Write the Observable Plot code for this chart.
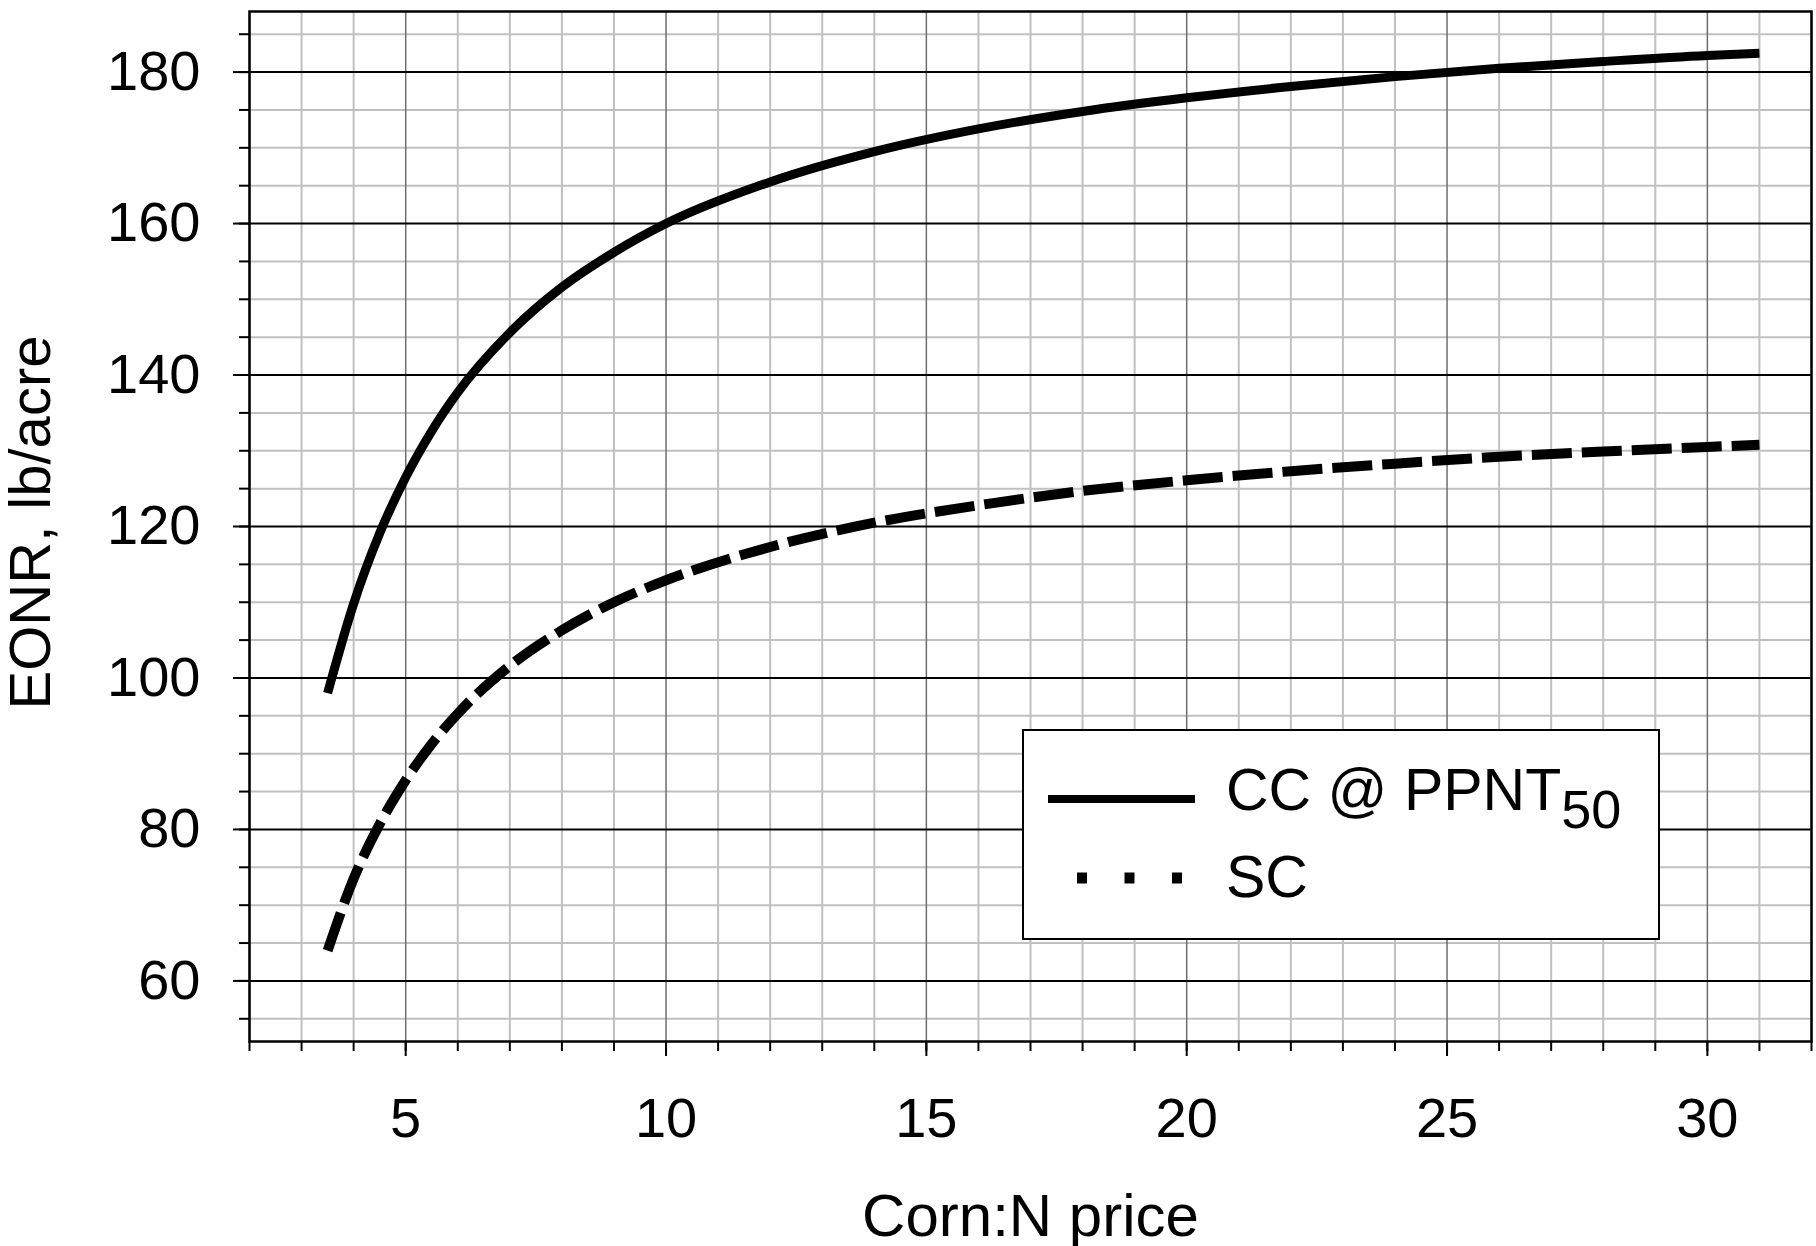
<!DOCTYPE html>
<html><head><meta charset="utf-8">
<script src="https://cdn.jsdelivr.net/npm/d3@7"></script>
<script src="https://cdn.jsdelivr.net/npm/@observablehq/plot@0.6"></script>
<style>
body{margin:0;background:#fff}
#wrap{position:relative;width:1816px;height:1246px;font-family:"Liberation Sans",Arial,sans-serif}
#legend{position:absolute;left:1022px;top:729px}
</style>
</head><body><div id="wrap"></div>
<script>
// Corn:N price ratio (x)
const price  = [3.5, 4, 4.5, 5, 5.5, 6, 7, 8, 9, 10, 12, 14, 16, 18, 20, 22, 24, 26, 28, 30, 31];
// EONR, lb/acre
const eonrCC = [98, 109.8, 119.1, 126.5, 132.6, 137.7, 145.6, 151.6, 156.2, 160, 165.5, 169.5, 172.5, 174.8, 176.6, 178.1, 179.4, 180.5, 181.4, 182.2, 182.5];
const eonrSC = [64, 73.5, 80.7, 86.5, 91.3, 95.3, 101.6, 106.3, 110.0, 112.9, 117.3, 120.5, 122.8, 124.7, 126.1, 127.3, 128.3, 129.2, 129.9, 130.5, 130.8];
const seriesNames = ["CC @ PPNT", "SC"];
const seriesSub = ["50", ""];
const xTitle = "Corn:N price";
const yTitle = "EONR, lb/acre";
const xMajorTicks = [5, 10, 15, 20, 25, 30];
const xMinorTicks = [2, 3, 4, 5, 6, 7, 8, 9, 10, 11, 12, 13, 14, 15, 16, 17, 18, 19, 20, 21, 22, 23, 24, 25, 26, 27, 28, 29, 30, 31, 32];
const yMajorTicks = [60, 80, 100, 120, 140, 160, 180];
const yMinorTicks = [55, 60, 65, 70, 75, 80, 85, 90, 95, 100, 105, 110, 115, 120, 125, 130, 135, 140, 145, 150, 155, 160, 165, 170, 175, 180, 185];

const cc = price.map((p, i) => ({price: p, eonr: eonrCC[i]}));
const sc = price.map((p, i) => ({price: p, eonr: eonrSC[i]}));

const FONT = '"Liberation Sans", Arial, sans-serif';

const chart = Plot.plot({
  width: 1816,
  height: 1246,
  marginLeft: 249,
  marginRight: 5,
  marginTop: 11,
  marginBottom: 205,
  style: {fontFamily: FONT, background: "white", color: "black", overflow: "visible"},
  x: {domain: [2, 32], label: null},
  y: {domain: [52, 188], label: null},
  marks: [
    Plot.ruleX(xMinorTicks.filter(v => !xMajorTicks.includes(v)), {stroke: "#c0c0c0", strokeWidth: 2}),
    Plot.ruleY(yMinorTicks.filter(v => !yMajorTicks.includes(v)), {stroke: "#c0c0c0", strokeWidth: 2}),
    Plot.ruleX(xMajorTicks, {stroke: "#6e6e6e", strokeWidth: 1.5}),
    Plot.ruleY(yMajorTicks, {stroke: "#000", strokeWidth: 2}),
    Plot.line(cc, {x: "price", y: "eonr", curve: "monotone-x", stroke: "#000", strokeWidth: 9, strokeLinecap: "butt"}),
    Plot.line(sc, {x: "price", y: "eonr", curve: "monotone-x", stroke: "#000", strokeWidth: 10, strokeLinecap: "butt", strokeDasharray: "40,10"}),
    Plot.frame({stroke: "#000", strokeWidth: 2.5}),
    Plot.axisX({ticks: xMinorTicks, tickSize: 10, strokeWidth: 2, tickFormat: () => "", label: null}),
    Plot.axisX({ticks: xMajorTicks, tickSize: 15, strokeWidth: 2, tickPadding: 41, fontSize: 56, label: null}),
    Plot.axisY({ticks: yMinorTicks, tickSize: 10, strokeWidth: 2, tickFormat: () => "", label: null}),
    Plot.axisY({ticks: yMajorTicks, tickSize: 16, strokeWidth: 2, tickPadding: 33, fontSize: 56, label: null}),
    Plot.text([xTitle], {text: d => d, frameAnchor: "bottom", textAnchor: "middle", lineAnchor: "middle", dy: 175, fontSize: 60, fill: "#000"}),
    Plot.text([yTitle], {text: d => d, frameAnchor: "left", textAnchor: "middle", lineAnchor: "middle", rotate: -90, dx: -218, dy: -4, fontSize: 58, fill: "#000"})
  ]
});

const wrap = document.getElementById("wrap");
wrap.appendChild(chart);

// Legend overlay
const lg = d3.select(wrap).append("svg").attr("id", "legend")
  .attr("width", 640).attr("height", 213)
  .style("font-family", FONT);
lg.append("rect").attr("x", 1).attr("y", 1).attr("width", 636).attr("height", 209)
  .attr("fill", "white").attr("stroke", "#000").attr("stroke-width", 2);
lg.append("line").attr("x1", 26).attr("x2", 173).attr("y1", 70).attr("y2", 70)
  .attr("stroke", "#000").attr("stroke-width", 8);
lg.append("line").attr("x1", 55).attr("x2", 161).attr("y1", 149).attr("y2", 149)
  .attr("stroke", "#000").attr("stroke-width", 11).attr("stroke-dasharray", "10,37.5");
const t1 = lg.append("text").attr("x", 204).attr("y", 81).attr("font-size", 59).attr("fill", "#000");
t1.text(seriesNames[0]);
t1.append("tspan").attr("font-size", 54).attr("dy", 18).text(seriesSub[0]);
lg.append("text").attr("x", 204).attr("y", 168).attr("font-size", 59).attr("fill", "#000").text(seriesNames[1]);
</script>
</body></html>
